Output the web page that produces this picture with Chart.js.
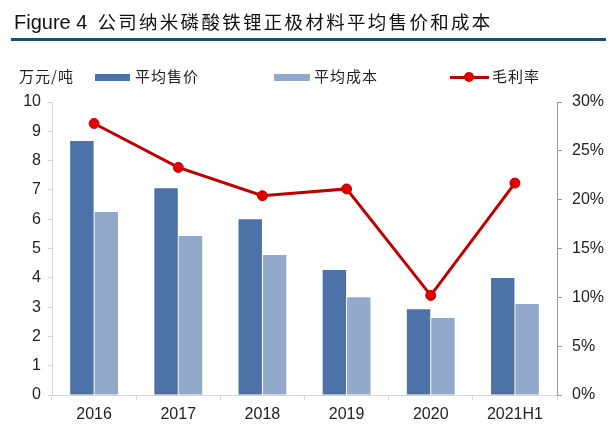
<!DOCTYPE html>
<html>
<head>
<meta charset="utf-8">
<script src="https://cdn.jsdelivr.net/npm/chart.js@4.4.1/dist/chart.umd.min.js"></script>
<style>
  body { margin: 0; background: #fff; }
  #wrap { position: relative; width: 616px; height: 433px; overflow: hidden; }
  #grafico { position: absolute; left: 0; top: 0; }
  .txt { position: absolute; white-space: nowrap; color: #222; }
  #titulo { left: 14px; top: 8px; font-family: "Liberation Sans", Arial, sans-serif; font-size: 20px; color: #111; }
  #titulo .cn { font-family: "Noto Sans CJK SC", sans-serif; font-size: 18.5px; letter-spacing: 2.3px; margin-left: 10px; }
  #linha { position: absolute; left: 11px; top: 38px; width: 595px; height: 3px; background: #1f4e6b; }
  .cn2 { font-family: "Noto Sans CJK SC", sans-serif; font-size: 15px; letter-spacing: 1px; }
  .sw { position: absolute; }
</style>
</head>
<body>
<div id="wrap">
  <canvas id="grafico" width="616" height="433"></canvas>
  <div id="titulo" class="txt">Figure 4<span class="cn">公司纳米磷酸铁锂正极材料平均售价和成本</span></div>
  <div id="linha"></div>
  <div id="unidade" class="txt cn2" style="left:19px;top:65px;">万元/吨</div>
  <div id="legenda"></div>
</div>
<script>
var labels = ['2016', '2017', '2018', '2019', '2020', '2021H1']
var precoValues = [8.67, 7.06, 6.0, 4.27, 2.93, 3.99]     // 平均售价, 万元/吨
var custoValues = [6.25, 5.43, 4.78, 3.34, 2.63, 3.11]    // 平均成本, 万元/吨
var margemValues = [27.8, 23.3, 20.4, 21.1, 10.2, 21.7]  // 毛利率, %

var corPreco = '#4d72a8'
var corCusto = '#93a9cc'
var corMargem = '#c00000'

// legenda feita em html
var leg = document.getElementById('legenda')
function addLeg(html){ leg.insertAdjacentHTML('beforeend', html) }
addLeg('<div class="sw" style="left:95px;top:74px;width:35px;height:7px;background:' + corPreco + '"></div>')
addLeg('<div class="txt cn2" style="left:135px;top:65px;">平均售价</div>')
addLeg('<div class="sw" style="left:274px;top:74px;width:36px;height:7px;background:' + corCusto + '"></div>')
addLeg('<div class="txt cn2" style="left:314px;top:65px;">平均成本</div>')
addLeg('<div class="sw" style="left:450px;top:76px;width:39px;height:3px;background:' + corMargem + '"></div>')
addLeg('<div class="sw" style="left:464px;top:72px;width:10px;height:10px;border-radius:50%;background:#e00000"></div>')
addLeg('<div class="txt cn2" style="left:492px;top:65px;">毛利率</div>')

var tickFont = { family: '"Liberation Sans", Arial, sans-serif', size: 16 }

new Chart(document.getElementById('grafico'), {
  type: 'bar',
  data: {
    labels: labels,
    datasets: [
      {
        type: 'line',
        label: '毛利率',
        data: margemValues,
        yAxisID: 'y1',
        borderColor: corMargem,
        borderWidth: 3,
        pointRadius: 5,
        pointBackgroundColor: '#e00000',
        pointBorderColor: corMargem,
        pointBorderWidth: 1,
        tension: 0,
        order: 0
      },
      {
        label: '平均售价',
        data: precoValues,
        yAxisID: 'y',
        backgroundColor: corPreco,
        barPercentage: 0.96,
        categoryPercentage: 0.58,
        order: 1
      },
      {
        label: '平均成本',
        data: custoValues,
        yAxisID: 'y',
        backgroundColor: corCusto,
        barPercentage: 0.96,
        categoryPercentage: 0.58,
        order: 1
      }
    ]
  },
  options: {
    responsive: false,
    animation: false,
    layout: { padding: { top: 102, left: 0, right: 0, bottom: 0 } },
    plugins: {
      legend: { display: false },
      tooltip: { enabled: false }
    },
    scales: {
      x: {
        grid: { drawOnChartArea: false, tickLength: 5, color: '#d4d4d4' },
        border: { color: '#d4d4d4' },
        ticks: { color: '#222', font: tickFont, padding: 5 },
        afterFit: function(s){ s.height = 38 }
      },
      y: {
        position: 'left',
        min: 0,
        max: 10,
        ticks: { stepSize: 1, color: '#222', font: tickFont, padding: 7 },
        grid: { drawOnChartArea: false, tickLength: 4, color: '#d4d4d4' },
        border: { color: '#d4d4d4' },
        afterFit: function(s){ s.width = 52 }
      },
      y1: {
        position: 'right',
        min: 0,
        max: 30,
        ticks: {
          stepSize: 5,
          color: '#222',
          font: tickFont,
          padding: 10,
          callback: function(v){ return v + '%' }
        },
        grid: { drawOnChartArea: false, tickLength: 5, color: '#9a9a9a' },
        border: { color: '#9a9a9a' },
        afterFit: function(s){ s.width = 59 }
      }
    }
  }
})
</script>
</body>
</html>
